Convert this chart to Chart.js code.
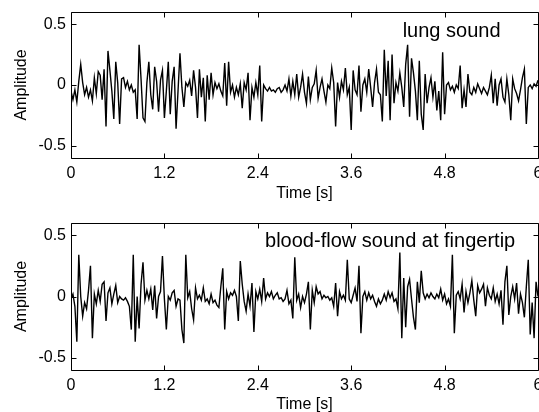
<!DOCTYPE html>
<html>
<head>
<meta charset="utf-8">
<script src="https://cdn.jsdelivr.net/npm/chart.js@4.4.1/dist/chart.umd.min.js"></script>
<style>
  html, body { margin: 0; padding: 0; background: #fff; overflow: hidden; }
  canvas { position: absolute; left: 0; }
  #lungChart { top: 0; }
  #bloodChart { top: 211px; }
</style>
</head>
<body>
<canvas id="lungChart" width="539" height="211"></canvas>
<canvas id="bloodChart" width="539" height="211"></canvas>
<script>
// sampling step of the traces (s)
const SAMPLE_STEP = 0.025;
const timeTicks = [0, 1.2, 2.4, 3.6, 4.8, 6];
const ampTicks = [-0.5, 0, 0.5];

// lung sound, 0 .. 6 s
const lungSound = [
  -0.05, -0.12, -0.04, -0.14, 0.03, 0.17, 0.02, -0.08, -0.02, -0.10,
  -0.04, -0.13, 0.06, -0.07, 0.11, 0.08, -0.12, 0.13, -0.34, 0.28,
  0.12, -0.05, -0.28, 0.19, 0.02, -0.32, 0.05, 0.06, -0.02, 0.03,
  -0.04, 0.00, -0.06, -0.04, -0.28, 0.33, 0.05, -0.27, -0.30, 0.02,
  0.19, -0.08, -0.20, 0.15, 0.03, -0.22, 0.04, 0.12, -0.27, -0.05,
  0.19, -0.24, 0.03, 0.15, -0.36, -0.05, 0.26, -0.02, -0.18, 0.02,
  -0.01, 0.04, -0.09, 0.12, -0.02, -0.27, 0.13, -0.10, 0.06, -0.30,
  0.08, -0.12, 0.10, -0.08, 0.02, -0.03, 0.01, -0.05, -0.09, 0.18,
  -0.17, 0.19, -0.06, 0.00, -0.10, -0.02, -0.08, 0.01, -0.19, 0.02,
  -0.04, 0.10, -0.29, -0.02, -0.10, 0.02, -0.08, 0.16, -0.30, 0.00,
  -0.03, -0.05, -0.02, -0.05, -0.04, -0.06, -0.03, -0.02, -0.06, -0.04,
  0.00, -0.05, 0.05, -0.09, 0.03, -0.08, 0.09, -0.10, -0.02, 0.09,
  -0.06, -0.15, 0.07, -0.12, -0.02, 0.01, 0.12, -0.11, -0.02, 0.05,
  -0.05, -0.14, 0.00, -0.03, 0.14, 0.02, -0.34, 0.02, -0.10, 0.03,
  -0.04, 0.14, -0.08, -0.02, -0.37, 0.12, -0.04, -0.08, 0.16, -0.22,
  0.00, 0.05, -0.06, 0.13, -0.02, -0.18, 0.02, 0.13, -0.06, -0.08,
  -0.30, 0.29, -0.09, 0.20, -0.29, 0.25, -0.15, 0.02, -0.05, 0.10,
  -0.02, -0.18, 0.17, 0.33, -0.26, 0.22, 0.10, -0.05, -0.29, 0.20,
  -0.24, -0.37, 0.09, -0.15, -0.02, 0.06, -0.10, 0.03, -0.21, -0.05,
  -0.29, 0.27, -0.24, 0.00, 0.02, -0.04, -0.01, -0.06, 0.00, -0.03,
  0.16, -0.19, -0.04, -0.18, 0.09, -0.06, -0.08, -0.02, -0.06, 0.01,
  -0.03, -0.07, -0.02, -0.05, -0.08, -0.02, 0.08, -0.15, 0.05, -0.17,
  0.00, 0.05, -0.10, -0.14, 0.05, -0.08, -0.29, 0.05, -0.03, -0.07,
  -0.13, -0.04, 0.06, 0.13, -0.32, -0.02, 0.00, -0.03, 0.01, -0.01,
  0.04
];

// blood-flow sound at fingertip, 0 .. 6 s
const bloodFlowSound = [
  -0.02, 0.02, -0.08, -0.37, 0.34, 0.00, -0.16, -0.05, -0.10, 0.05,
  0.25, -0.34, 0.02, -0.06, 0.05, -0.04, 0.10, 0.12, -0.20, 0.03,
  0.07, -0.06, 0.02, 0.09, -0.05, 0.00, -0.02, -0.03, -0.01, -0.04,
  -0.08, -0.27, 0.34, -0.37, 0.00, -0.26, 0.10, 0.28, -0.03, 0.05,
  -0.02, 0.06, -0.11, 0.09, -0.18, 0.00, 0.04, 0.33, -0.02, -0.27,
  0.00, -0.03, 0.03, 0.05, -0.08, -0.02, -0.03, -0.27, -0.38, 0.34,
  -0.01, 0.04, -0.10, -0.19, 0.07, -0.02, 0.01, -0.03, 0.07, -0.04,
  -0.02, -0.06, 0.02, -0.05, -0.03, -0.07, -0.09, 0.08, 0.23, -0.27,
  0.04, -0.02, 0.03, 0.01, 0.05, 0.00, -0.20, 0.29, 0.10, -0.04,
  -0.12, 0.02, -0.08, 0.11, -0.29, 0.04, -0.02, 0.06, -0.04, 0.15,
  -0.02, 0.03, 0.00, 0.04, -0.02, 0.01, 0.03, -0.02, -0.01, -0.04,
  -0.02, 0.05, -0.06, -0.03, -0.18, 0.32, -0.03, 0.02, -0.09, 0.00,
  -0.05, 0.02, 0.12, -0.27, 0.05, -0.05, 0.08, 0.02, 0.04, -0.02,
  0.01, -0.01, 0.00, -0.03, -0.01, -0.08, 0.11, -0.16, 0.04, -0.02,
  0.01, -0.03, 0.30, -0.02, -0.05, 0.01, 0.07, -0.04, 0.25, -0.30,
  0.00, 0.04, -0.03, 0.03, -0.02, 0.01, -0.04, -0.08, -0.02, -0.06,
  -0.03, 0.02, -0.03, 0.04, -0.01, 0.03, -0.04, -0.02, -0.10, 0.36,
  -0.34, 0.15, -0.25, 0.08, 0.14, -0.02, -0.17, -0.27, 0.12, -0.05,
  0.21, 0.03, -0.02, 0.02, -0.01, 0.03, 0.00, -0.02, 0.02, -0.01,
  0.06, -0.03, 0.02, -0.06, -0.02, -0.08, 0.34, -0.30, 0.01, 0.04,
  -0.02, 0.10, -0.13, 0.04, -0.05, 0.03, 0.13, -0.03, -0.16, 0.09,
  0.03, 0.06, 0.10, -0.08, 0.07, 0.01, -0.02, 0.07, -0.04, 0.02,
  -0.06, 0.05, -0.23, 0.12, 0.25, -0.15, 0.00, 0.08, -0.02, 0.11,
  -0.14, 0.02, -0.05, -0.17, 0.08, 0.30, -0.31, -0.05, -0.34, 0.12,
  0.00
];

const FONT = 'Liberation Sans, Arial, Helvetica, sans-serif';

// box with inward ticks on all four sides, plus the caption inside the axes
const matlabFrame = {
    id: 'matlabFrame',
    afterDraw(chart, args, opts) {
        const {ctx, chartArea: a, scales: {x, y}} = chart;
        const L = Math.round(a.left) + 0.5, R = Math.round(a.right) + 0.5;
        const T = Math.round(a.top) + 0.5, B = Math.round(a.bottom) + 0.5;
        ctx.save();
        ctx.strokeStyle = '#000';
        ctx.lineWidth = 1;
        ctx.beginPath();
        ctx.rect(L, T, R - L, B - T);
        timeTicks.forEach(t => {
            const px = Math.round(x.getPixelForValue(t)) + 0.5;
            ctx.moveTo(px, B); ctx.lineTo(px, B - 5);
            ctx.moveTo(px, T); ctx.lineTo(px, T + 5);
        });
        ampTicks.forEach(v => {
            const py = Math.round(y.getPixelForValue(v)) + 0.5;
            ctx.moveTo(L, py); ctx.lineTo(L + 5, py);
            ctx.moveTo(R, py); ctx.lineTo(R - 5, py);
        });
        ctx.stroke();

        ctx.fillStyle = '#000';
        ctx.font = '20px ' + FONT;
        ctx.textAlign = 'center';
        ctx.textBaseline = 'middle';
        ctx.fillText(opts.caption, x.getPixelForValue(opts.at[0]), y.getPixelForValue(opts.at[1]));
        ctx.restore();
    }
};

function makeChart(id, values, caption, at, xHeight) {
    const points = values.map((v, i) => ({x: i * SAMPLE_STEP, y: v}));
    return new Chart(document.getElementById(id), {
        type: 'line',
        data: {
            datasets: [{
                data: points,
                borderColor: '#000',
                borderWidth: 1.4,
                pointRadius: 0,
                tension: 0,
                fill: false
            }]
        },
        options: {
            responsive: false,
            animation: false,
            events: [],
            layout: {padding: {top: 12, right: 1, left: 0, bottom: 0}},
            plugins: {
                legend: {display: false},
                tooltip: {enabled: false},
                matlabFrame: {caption: caption, at: at}
            },
            scales: {
                x: {
                    type: 'linear',
                    min: 0,
                    max: 6,
                    afterBuildTicks: s => { s.ticks = timeTicks.map(v => ({value: v})); },
                    afterFit: s => { s.height = xHeight; s.paddingLeft = 0; s.paddingRight = 0; },
                    grid: {display: false, drawTicks: false, tickLength: 0},
                    border: {display: false},
                    ticks: {
                        color: '#000',
                        padding: 6,
                        maxRotation: 0,
                        autoSkip: false,
                        font: {family: FONT, size: 16},
                        callback: v => String(v)
                    },
                    title: {
                        display: true,
                        text: 'Time [s]',
                        color: '#000',
                        font: {family: FONT, size: 16},
                        padding: {top: 0, bottom: 8}
                    }
                },
                y: {
                    type: 'linear',
                    min: -0.6,
                    max: 0.6,
                    afterBuildTicks: s => { s.ticks = ampTicks.map(v => ({value: v})); },
                    afterFit: s => { s.width = 71; s.paddingTop = 0; s.paddingBottom = 0; },
                    grid: {display: false, drawTicks: false, tickLength: 0},
                    border: {display: false},
                    ticks: {
                        color: '#000',
                        padding: 5,
                        font: {family: FONT, size: 16},
                        callback: v => String(v)
                    },
                    title: {
                        display: true,
                        text: 'Amplitude',
                        color: '#000',
                        font: {family: FONT, size: 16},
                        padding: {top: 12, bottom: 0}
                    }
                }
            }
        },
        plugins: [matlabFrame]
    });
}

makeChart('lungChart', lungSound, 'lung sound', [4.89, 0.44], 53);
makeChart('bloodChart', bloodFlowSound, 'blood-flow sound at fingertip', [4.10, 0.45], 52);
</script>
</body>
</html>
